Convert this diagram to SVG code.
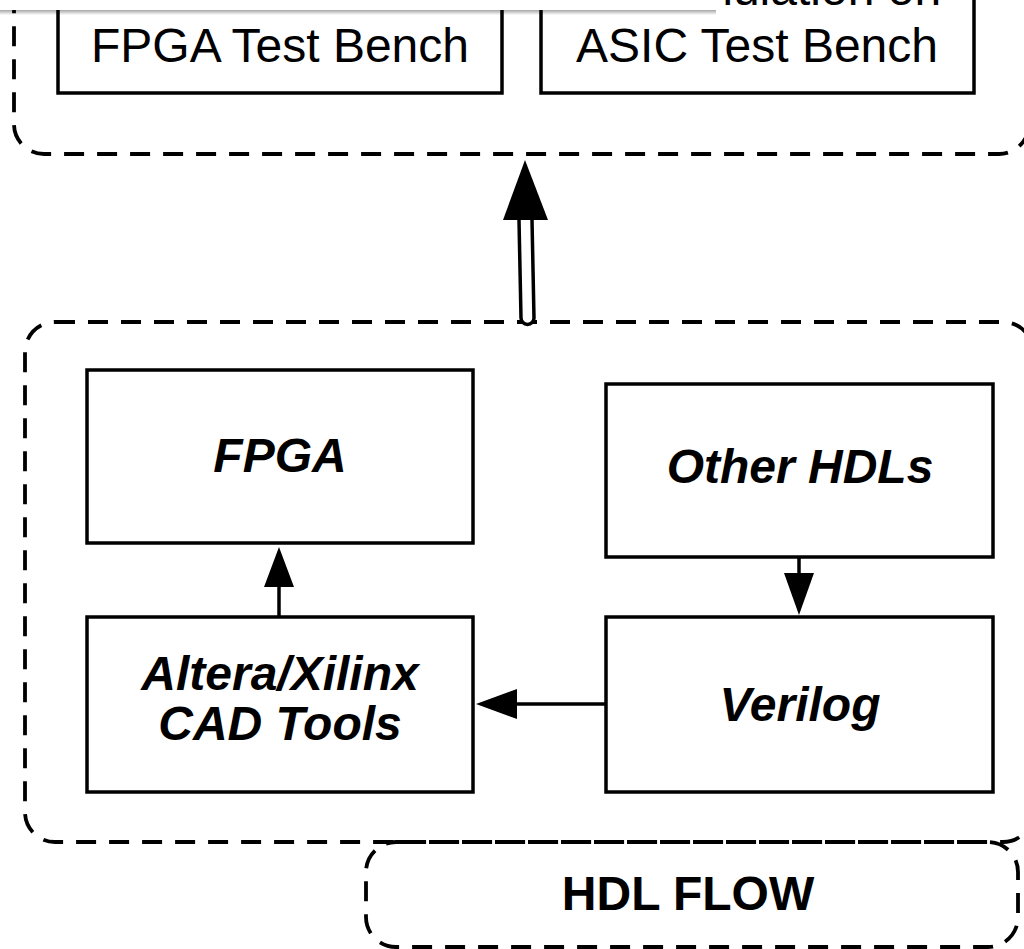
<svg xmlns="http://www.w3.org/2000/svg" width="1024" height="949" viewBox="0 0 1024 949">
<defs>
<style>
.box{fill:#fff;stroke:#000;stroke-width:3.5}
.dash{fill:none;stroke:#000;stroke-width:3.8;stroke-dasharray:20 13}
.reg{font-family:"Liberation Sans",Arial,sans-serif;font-size:48px;fill:#000;text-anchor:middle}
.bi{font-family:"Liberation Sans",Arial,sans-serif;font-size:48px;font-weight:bold;font-style:italic;fill:#000;text-anchor:middle}
.b{font-family:"Liberation Sans",Arial,sans-serif;font-size:48px;font-weight:bold;fill:#000;text-anchor:middle}
.conn{fill:none;stroke:#000;stroke-width:3.5}
.head{fill:#000;stroke:none}
</style>
<linearGradient id="shadow" x1="0" y1="0" x2="0" y2="1">
<stop offset="0" stop-color="#000" stop-opacity="0.35"/>
<stop offset="1" stop-color="#000" stop-opacity="0"/>
</linearGradient>
</defs>

<g id="test-group">
<rect class="dash" x="14" y="-120" width="1015" height="274" rx="30"/>
</g>
<g id="fpga-test-bench">
<rect class="box" x="58" y="-60" width="444" height="153"/>
<text class="reg" x="280" y="62">FPGA Test Bench</text>
</g>
<g id="asic-test-bench">
<rect class="box" x="541" y="-60" width="433" height="153"/>
<text class="reg" x="757" y="5">Co-Simulation on</text>
<text class="reg" x="757" y="62">ASIC Test Bench</text>
</g>

<g id="hdl-group">
<rect class="dash" x="25" y="322" width="1008" height="520" rx="30"/>
</g>
<g id="hdl-flow-label">
<rect class="dash" x="366" y="842" width="652" height="105" rx="30"/>
<text class="b" x="688" y="910">HDL FLOW</text>
</g>
<g id="fpga">
<rect class="box" x="87" y="370" width="386" height="173"/>
<text class="bi" x="280" y="472">FPGA</text>
</g>
<g id="other-hdls">
<rect class="box" x="606" y="384" width="387" height="173"/>
<text class="bi" x="800" y="483">Other HDLs</text>
</g>
<g id="cad-tools">
<rect class="box" x="87" y="617" width="386" height="175"/>
<text class="bi" x="280" y="690">Altera/Xilinx</text>
<text class="bi" x="280" y="740">CAD Tools</text>
</g>
<g id="verilog">
<rect class="box" x="606" y="617" width="387" height="175"/>
<text class="bi" x="800" y="721">Verilog</text>
</g>

<g id="connectors">
<path d="M519,220 L521,318 A6.5,6.5 0 0 0 534,318 L532,220" fill="#fff" stroke="#000" stroke-width="3.5"/>
<polygon class="head" points="503,220 525,160 548,220"/>
<line class="conn" x1="279" y1="617" x2="279" y2="585"/>
<polygon class="head" points="264,587 279,547 294,587"/>
<line class="conn" x1="799" y1="557" x2="799" y2="575"/>
<polygon class="head" points="784,573 799,615 814,573"/>
<line class="conn" x1="606" y1="704" x2="515" y2="704"/>
<polygon class="head" points="517,689 476,704 517,719"/>
</g>

<g id="overlay">
<rect x="0" y="0" width="716" height="10" fill="#fff"/>
<rect x="0" y="10" width="716" height="5" fill="url(#shadow)"/>
</g>
</svg>
